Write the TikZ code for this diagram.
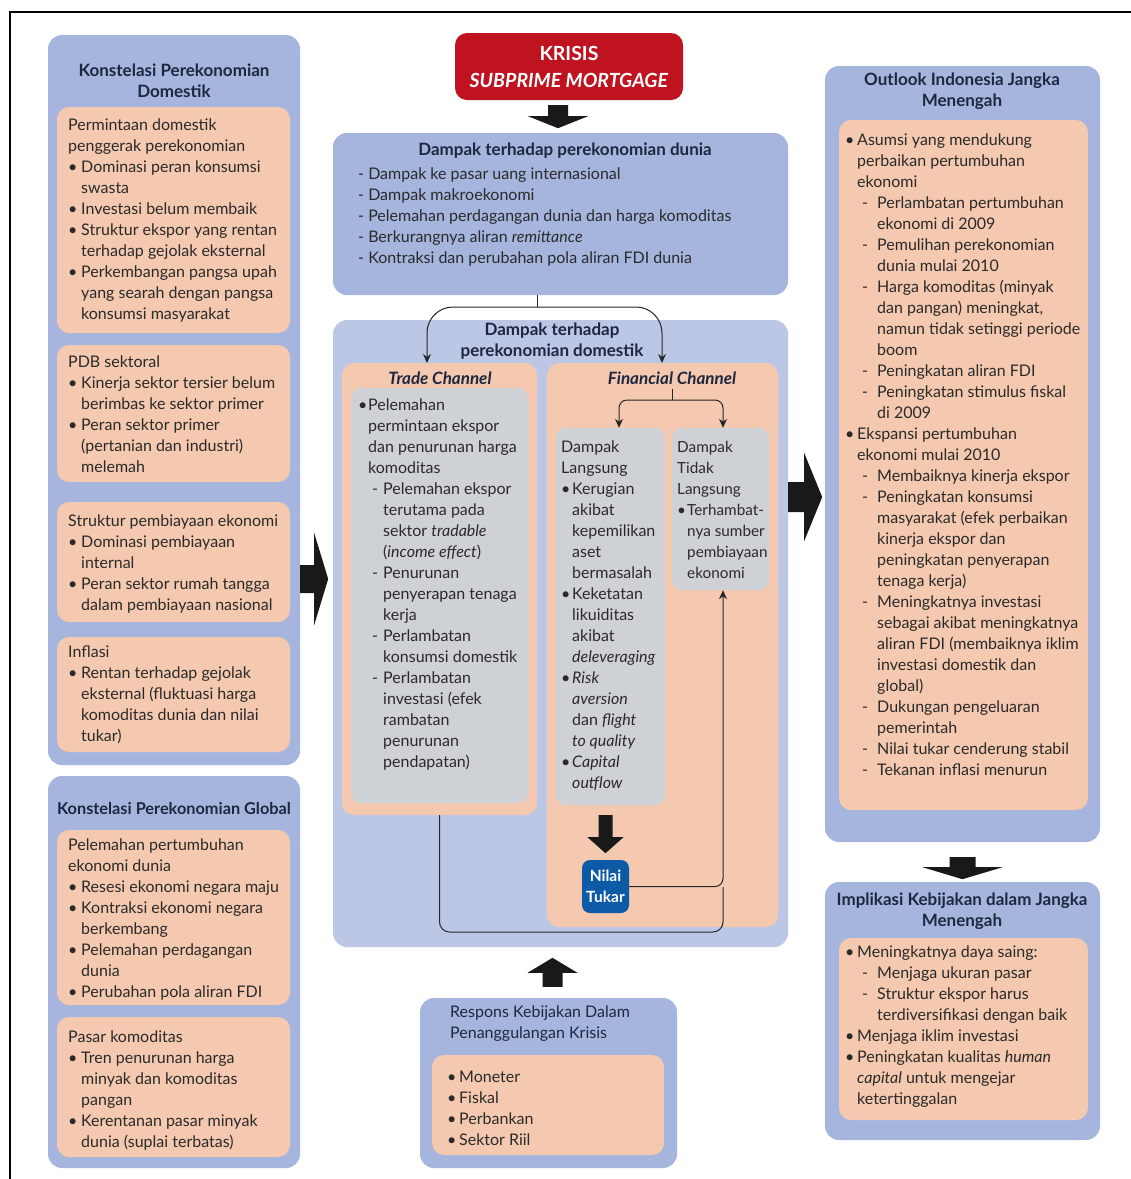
\documentclass[tikz,border=0pt]{standalone}
\usepackage{fontspec}
\setmainfont{Lato}
\usetikzlibrary{arrows.meta,calc,fit}
\definecolor{bluebox}{HTML}{A5B5DD}
\definecolor{bluelite}{HTML}{BCC7E6}
\definecolor{salmon}{HTML}{F4C9B0}
\definecolor{greybox}{HTML}{CED2D6}
\definecolor{redbox}{HTML}{BF1420}
\definecolor{nilaiblue}{HTML}{0D5BA6}
\definecolor{txtc}{HTML}{2A2A2A}
\definecolor{ttlc}{HTML}{1E2740}
\newcommand{\Bul}[1]{\makebox[#1][l]{•}}
\newcommand{\Ind}[1]{\hspace*{#1}}
\newcommand{\Dsh}[1]{\makebox[#1][l]{-}}
\tikzset{
  outerbox/.style={fill=bluebox, rounded corners=14pt, inner sep=0pt, draw=none},
  midbox/.style={fill=bluelite, rounded corners=14pt, inner sep=0pt, draw=none},
  innerbox/.style={fill=salmon, rounded corners=12pt, inner sep=0pt, draw=none},
  greyb/.style={fill=greybox, rounded corners=10pt, inner sep=0pt, draw=none},
  txt/.style={font=\fontsize{16}{21}\selectfont, text=txtc, align=left, inner sep=0pt, anchor=north west, yshift=-2pt},
  ttl/.style={font=\bfseries\fontsize{17}{21}\selectfont, text=ttlc, align=center, inner sep=0pt},
  conn/.style={draw=black!85, line width=1pt},
  fat/.style={fill=black!90, draw=none},
}
\begin{document}
\begin{tikzpicture}[x=1pt,y=-1pt]
\useasboundingbox (0,0) rectangle (1131,1179);
\fill[white] (0,0) rectangle (1131,1179);
\draw[line width=2.5pt] (10,1179) -- (10,12) -- (1131,12);

% ---------- left column ----------
\node[outerbox, fit={(48,35) (300,765)}] (dom) {};
\node[ttl] (domt) at (174,81) {Konstelasi Perekonomian\\Domestik};
\node[innerbox, fit={(57,107) (290,333)}] (d1) {};
\node[txt] (d1t) at (68,117) {Permintaan domestik\\
penggerak perekonomian\\
\Bul{13pt}Dominasi peran konsumsi\\
\Ind{13pt}swasta\\
\Bul{13pt}Investasi belum membaik\\
\Bul{13pt}Struktur ekspor yang rentan\\
\Ind{13pt}terhadap gejolak eksternal\\
\Bul{13pt}Perkembangan pangsa upah\\
\Ind{13pt}yang searah dengan pangsa\\
\Ind{13pt}konsumsi masyarakat};
\node[innerbox, fit={(57,345) (290,482)}] (d2) {};
\node[txt] (d2t) at (68,354) {PDB sektoral\\
\Bul{13pt}Kinerja sektor tersier belum\\
\Ind{13pt}berimbas ke sektor primer\\
\Bul{13pt}Peran sektor primer\\
\Ind{13pt}(pertanian dan industri)\\
\Ind{13pt}melemah};
\node[innerbox, fit={(57,502) (290,622)}] (d3) {};
\node[txt] (d3t) at (68,513) {Struktur pembiayaan ekonomi\\
\Bul{13pt}Dominasi pembiayaan\\
\Ind{13pt}internal\\
\Bul{13pt}Peran sektor rumah tangga\\
\Ind{13pt}dalam pembiayaan nasional};
\node[innerbox, fit={(57,637) (290,752)}] (d4) {};
\node[txt] (d4t) at (68,644) {Inflasi\\
\Bul{13pt}Rentan terhadap gejolak\\
\Ind{13pt}eksternal (fluktuasi harga\\
\Ind{13pt}komoditas dunia dan nilai\\
\Ind{13pt}tukar)};

\node[outerbox, fit={(48,776) (300,1168)}] (glo) {};
\node[ttl, font=\bfseries\fontsize{16.3}{21}\selectfont] (glot) at (174,808) {Konstelasi Perekonomian Global};
\node[innerbox, fit={(57,830) (290,1005)}] (g1) {};
\node[txt] (g1t) at (68,837) {Pelemahan pertumbuhan\\
ekonomi dunia\\
\Bul{13pt}Resesi ekonomi negara maju\\
\Bul{13pt}Kontraksi ekonomi negara\\
\Ind{13pt}berkembang\\
\Bul{13pt}Pelemahan perdagangan\\
\Ind{13pt}dunia\\
\Bul{13pt}Perubahan pola aliran FDI};
\node[innerbox, fit={(57,1017) (290,1157)}] (g2) {};
\node[txt] (g2t) at (68,1029) {Pasar komoditas\\
\Bul{13pt}Tren penurunan harga\\
\Ind{13pt}minyak dan komoditas\\
\Ind{13pt}pangan\\
\Bul{13pt}Kerentanan pasar minyak\\
\Ind{13pt}dunia (suplai terbatas)};

% ---------- middle column ----------
\node[fill=redbox, rounded corners=12pt, inner sep=0pt, fit={(455,33) (683,100)}] (krisis) {};
\node[font=\bfseries\fontsize{19.5}{27}\selectfont, text=white, align=center, inner sep=0pt] (krisist) at (krisis.center) {KRISIS\\\textit{SUBPRIME MORTGAGE}};

\node[outerbox, fit={(333,133) (788,295)}] (dunia) {};
\node[ttl] (duniat) at (565,151) {Dampak terhadap perekonomian dunia};
\node[txt] (duniai) at (358,166) {- Dampak ke pasar uang internasional\\
- Dampak makroekonomi\\
- Pelemahan perdagangan dunia dan harga komoditas\\
- Berkurangnya aliran \textit{remittance}\\
- Kontraksi dan perubahan pola aliran FDI dunia};

\node[midbox, fit={(333,320) (788,947)}] (domimp) {};
\node[ttl] (domimpt) at (552,341) {Dampak terhadap\\perekonomian domestik};

\node[innerbox, fit={(342,363) (537,815)}] (trade) {};
\node[ttl, font=\bfseries\itshape\fontsize{17}{21}\selectfont] (tradet) at (440,378) {Trade Channel};
\node[greyb, fit={(351,388) (528,803)}] (tradeg) {};
\node[txt] (tradetx) at (358,397) {\Bul{10pt}Pelemahan\\
\Ind{10pt}permintaan ekspor\\
\Ind{10pt}dan penurunan harga\\
\Ind{10pt}komoditas\\
\Ind{14pt}\Dsh{11pt}Pelemahan ekspor\\
\Ind{25pt}terutama pada\\
\Ind{25pt}sektor \textit{tradable}\\
\Ind{25pt}(\textit{income effect})\\
\Ind{14pt}\Dsh{11pt}Penurunan\\
\Ind{25pt}penyerapan tenaga\\
\Ind{25pt}kerja\\
\Ind{14pt}\Dsh{11pt}Perlambatan\\
\Ind{25pt}konsumsi domestik\\
\Ind{14pt}\Dsh{11pt}Perlambatan\\
\Ind{25pt}investasi (efek\\
\Ind{25pt}rambatan\\
\Ind{25pt}penurunan\\
\Ind{25pt}pendapatan)};

\node[innerbox, fit={(547,363) (778,927)}] (fin) {};
\node[ttl, font=\bfseries\itshape\fontsize{17}{21}\selectfont] (fint) at (672,378) {Financial Channel};
\node[greyb, fit={(556,428) (665,805)}] (lang) {};
\node[txt] (langt) at (561,439) {Dampak\\
Langsung\\
\Bul{11pt}Kerugian\\
\Ind{11pt}akibat\\
\Ind{11pt}kepemilikan\\
\Ind{11pt}aset\\
\Ind{11pt}bermasalah\\
\Bul{11pt}Keketatan\\
\Ind{11pt}likuiditas\\
\Ind{11pt}akibat\\
\Ind{11pt}\textit{deleveraging}\\
\Bul{11pt}\textit{Risk}\\
\Ind{11pt}\textit{aversion}\\
\Ind{11pt}dan \textit{flight}\\
\Ind{11pt}\textit{to quality}\\
\Bul{11pt}\textit{Capital}\\
\Ind{11pt}\textit{outflow}};
\node[greyb, fit={(672,428) (769,590)}] (tidak) {};
\node[txt, font=\fontsize{15.3}{21}\selectfont] (tidakt) at (677,439) {Dampak\\
Tidak\\
Langsung\\
\Bul{10pt}Terhambat-\\
\Ind{10pt}nya sumber\\
\Ind{10pt}pembiayaan\\
\Ind{10pt}ekonomi};

\node[fill=nilaiblue, rounded corners=8pt, inner sep=0pt, fit={(582,860) (629,913)}] (nilai) {};
\node[font=\bfseries\fontsize{15.5}{21}\selectfont, text=white, align=center, inner sep=0pt] (nilait) at (nilai.center) {Nilai\\Tukar};

\node[outerbox, fit={(420,998) (677,1168)}] (resp) {};
\node[txt, text=ttlc] (respt) at (450,1004) {Respons Kebijakan Dalam\\Penanggulangan Krisis};
\node[innerbox, fit={(432,1055) (664,1155)}] (respi) {};
\node[txt] (respit) at (447,1069) {\Bul{12pt}Moneter\\
\Bul{12pt}Fiskal\\
\Bul{12pt}Perbankan\\
\Bul{12pt}Sektor Riil};

% ---------- right column ----------
\node[outerbox, fit={(825,66) (1100,842)}] (outl) {};
\node[ttl] (outlt) at (962,91) {Outlook Indonesia Jangka\\Menengah};
\node[innerbox, fit={(839,120) (1088,810)}] (outli) {};
\node[txt] (outlit) at (845,132) {\Bul{12pt}Asumsi yang mendukung\\
\Ind{12pt}perbaikan pertumbuhan\\
\Ind{12pt}ekonomi\\
\Ind{17pt}\Dsh{15pt}Perlambatan pertumbuhan\\
\Ind{32pt}ekonomi di 2009\\
\Ind{17pt}\Dsh{15pt}Pemulihan perekonomian\\
\Ind{32pt}dunia mulai 2010\\
\Ind{17pt}\Dsh{15pt}Harga komoditas (minyak\\
\Ind{32pt}dan pangan) meningkat,\\
\Ind{32pt}namun tidak setinggi periode\\
\Ind{32pt}boom\\
\Ind{17pt}\Dsh{15pt}Peningkatan aliran FDI\\
\Ind{17pt}\Dsh{15pt}Peningkatan stimulus fiskal\\
\Ind{32pt}di 2009\\
\Bul{12pt}Ekspansi pertumbuhan\\
\Ind{12pt}ekonomi mulai 2010\\
\Ind{17pt}\Dsh{15pt}Membaiknya kinerja ekspor\\
\Ind{17pt}\Dsh{15pt}Peningkatan konsumsi\\
\Ind{32pt}masyarakat (efek perbaikan\\
\Ind{32pt}kinerja ekspor dan\\
\Ind{32pt}peningkatan penyerapan\\
\Ind{32pt}tenaga kerja)\\
\Ind{17pt}\Dsh{15pt}Meningkatnya investasi\\
\Ind{32pt}sebagai akibat meningkatnya\\
\Ind{32pt}aliran FDI (membaiknya iklim\\
\Ind{32pt}investasi domestik dan\\
\Ind{32pt}global)\\
\Ind{17pt}\Dsh{15pt}Dukungan pengeluaran\\
\Ind{32pt}pemerintah\\
\Ind{17pt}\Dsh{15pt}Nilai tukar cenderung stabil\\
\Ind{17pt}\Dsh{15pt}Tekanan inflasi menurun};

\node[outerbox, fit={(825,882) (1100,1140)}] (impl) {};
\node[ttl] (implt) at (962,911) {Implikasi Kebijakan dalam Jangka\\Menengah};
\node[innerbox, fit={(839,938) (1088,1120)}] (impli) {};
\node[txt] (implit) at (845,944) {\Bul{12pt}Meningkatnya daya saing:\\
\Ind{17pt}\Dsh{15pt}Menjaga ukuran pasar\\
\Ind{17pt}\Dsh{15pt}Struktur ekspor harus\\
\Ind{32pt}terdiversifikasi dengan baik\\
\Bul{12pt}Menjaga iklim investasi\\
\Bul{12pt}Peningkatan kualitas \textit{human}\\
\Ind{12pt}\textit{capital} untuk mengejar\\
\Ind{12pt}ketertinggalan};

% ---------- fat arrows ----------
% krisis -> dunia
\fill[fat, shift={($(krisis.south)+(-11,5)$)}] (-10,0) -- (10,0) -- (10,11) -- (30,11) -- (0,23) -- (-30,11) -- (-10,11) -- cycle;
% outlook -> implikasi
\fill[fat, shift={($(outl.south)+(0,15)$)}] (-13,0) -- (13,0) -- (13,10) -- (40,10) -- (0,22) -- (-40,10) -- (-13,10) -- cycle;
% langsung -> nilai tukar
\fill[fat, shift={($(lang.south)+(-5,10)$)}] (-7,0) -- (7,0) -- (7,22) -- (18,22) -- (0,38) -- (-18,22) -- (-7,22) -- cycle;
% respons -> middle (up)
\fill[fat, shift={($(resp.north)+(4,-11)$)}] (-10,0) -- (10,0) -- (10,-14) -- (25,-14) -- (0,-29) -- (-25,-14) -- (-10,-14) -- cycle;
% left column -> middle
\fill[fat, shift={(dom.east |- 0,579)}] (0,-14) -- (14,-14) -- (14,-46) -- (28,0) -- (14,46) -- (14,14) -- (0,14) -- cycle;
% middle -> outlook
\fill[fat, shift={(domimp.east |- 0,497)}] (0,-15) -- (16,-15) -- (16,-44) -- (34,0) -- (16,44) -- (16,15) -- (0,15) -- cycle;

% ---------- thin connectors ----------
\coordinate (sp0) at (537,295);
\coordinate (sp1) at (537,307);
\coordinate (ltip) at (427,363);
\coordinate (rtip) at (662,363);
\draw[conn] (sp0) -- (sp1);
\draw[conn, -{Stealth[length=9pt,width=8pt]}, rounded corners=26pt] (sp1) -| (ltip);
\draw[conn, -{Stealth[length=9pt,width=8pt]}, rounded corners=26pt] (sp1) -| (rtip);

\coordinate (fs0) at (672,389);
\coordinate (fs1) at (672,400);
\draw[conn] (fs0) -- (fs1);
\draw[conn, -{Stealth[length=9pt,width=8pt]}, rounded corners=8pt] (fs1) -| (lang.north -| 619,0);
\draw[conn, -{Stealth[length=9pt,width=8pt]}, rounded corners=8pt] (fs1) -| (tidak.north -| 723,0);

\draw[conn, -{Stealth[length=9pt,width=8pt]}, rounded corners=8pt] (nilai.east) -| (tidak.south -| 723,0);
\draw[conn, rounded corners=10pt] (trade.south) |- (723,932) -- (723,887);
\end{tikzpicture}
\end{document}
